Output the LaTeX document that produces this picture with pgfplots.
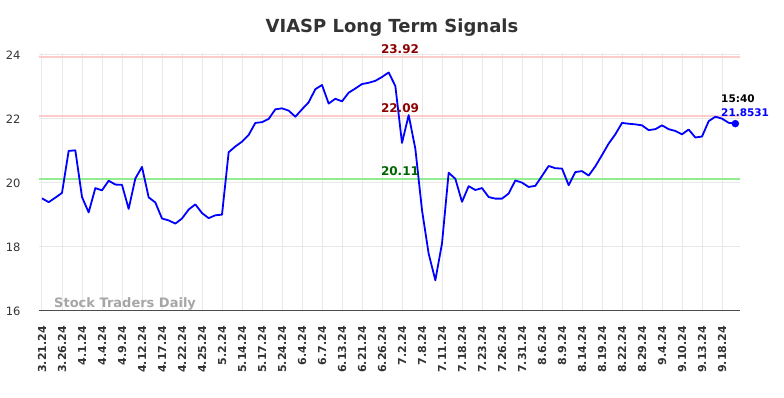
\documentclass[border=0pt]{standalone}
\usepackage{pgfplots}
\pgfplotsset{compat=1.18}
\usepackage{graphicx}
\usepackage{fontspec}
\setmainfont{DejaVu Sans}
\definecolor{titlegray}{HTML}{333333}
\definecolor{tickgray}{HTML}{333333}
\definecolor{gridgray}{HTML}{E8E8E8}
\definecolor{pinkline}{HTML}{FFCCCC}
\definecolor{greenline}{HTML}{90EE90}
\definecolor{darkredtxt}{HTML}{8B0000}
\definecolor{darkgreentxt}{HTML}{006400}
\definecolor{wmgray}{HTML}{A6A6A6}
\newcommand{\rl}[1]{\rotatebox{90}{#1}}
\begin{document}
\begin{tikzpicture}[x=1pt,y=1pt]
\useasboundingbox (0,0) rectangle (784,398);
\node[anchor=base, font=\bfseries\fontsize{18}{18}\selectfont, text=titlegray] at (392,365.5) {VIASP Long Term Signals};
\begin{axis}[
  at={(39pt,87pt)}, anchor=south west,
  scale only axis, width=701pt, height=258pt,
  xmin=-0.45, xmax=104.7, ymin=16, ymax=24.06,
  axis x line*=bottom, axis y line*=left,
  x axis line style={draw=black!70, line width=1pt, -},
  y axis line style={draw=none},
  major tick length=0pt,
  grid=major,
  major grid style={draw=gridgray, line width=1pt},
  ytick={16,18,20,22,24},
  yticklabel style={font=\fontsize{11.5}{11.5}\selectfont, text=tickgray, xshift=-15pt},
  /pgf/number format/assume math mode=true,
  xtick={0,3,...,102},
  xticklabels={\rl{3.21.24},\rl{3.26.24},\rl{4.1.24},\rl{4.4.24},\rl{4.9.24},\rl{4.12.24},\rl{4.17.24},\rl{4.22.24},\rl{4.25.24},\rl{5.2.24},\rl{5.14.24},\rl{5.17.24},\rl{5.24.24},\rl{6.4.24},\rl{6.7.24},\rl{6.13.24},\rl{6.21.24},\rl{6.26.24},\rl{7.2.24},\rl{7.8.24},\rl{7.11.24},\rl{7.18.24},\rl{7.23.24},\rl{7.26.24},\rl{7.31.24},\rl{8.6.24},\rl{8.9.24},\rl{8.14.24},\rl{8.19.24},\rl{8.22.24},\rl{8.29.24},\rl{9.4.24},\rl{9.10.24},\rl{9.13.24},\rl{9.18.24}},
  xticklabel style={anchor=north, font=\bfseries\fontsize{11}{11}\selectfont, text=tickgray, yshift=-15pt, inner sep=0pt},
  clip=false,
]
\addplot[pinkline, line width=2pt] coordinates {(-0.45,23.92) (104.7,23.92)};
\addplot[pinkline, line width=2pt] coordinates {(-0.45,22.09) (104.7,22.09)};
\addplot[greenline, line width=2pt] coordinates {(-0.45,20.11) (104.7,20.11)};
\addplot[blue, line width=1.8pt, line join=round] table {
x y
0 19.52
1 19.40
2 19.54
3 19.69
4 21.00
5 21.02
6 19.56
7 19.08
8 19.84
9 19.77
10 20.07
11 19.95
12 19.94
13 19.19
14 20.14
15 20.50
16 19.55
17 19.39
18 18.89
19 18.83
20 18.73
21 18.89
22 19.17
23 19.33
24 19.06
25 18.90
26 18.99
27 19.01
28 20.96
29 21.14
30 21.29
31 21.50
32 21.875
33 21.90
34 22.00
35 22.30
36 22.33
37 22.26
38 22.07
39 22.30
40 22.52
41 22.93
42 23.06
43 22.48
44 22.63
45 22.55
46 22.82
47 22.95
48 23.09
49 23.13
50 23.19
51 23.31
52 23.45
53 23.03
54 21.25
55 22.12
56 21.07
57 19.15
58 17.79
59 16.96
60 18.11
61 20.32
62 20.13
63 19.41
64 19.90
65 19.78
66 19.84
67 19.56
68 19.51
69 19.51
70 19.67
71 20.08
72 20.01
73 19.875
74 19.91
75 20.22
76 20.53
77 20.46
78 20.45
79 19.93
80 20.34
81 20.37
82 20.23
83 20.52
84 20.87
85 21.23
86 21.52
87 21.875
88 21.85
89 21.83
90 21.80
91 21.65
92 21.68
93 21.80
94 21.68
95 21.625
96 21.52
97 21.67
98 21.42
99 21.45
100 21.93
101 22.07
102 22.01
103 21.88
104 21.8531
};
\addplot[blue, only marks, mark=*, mark size=3.5pt] coordinates {(104,21.8531)};
\node[anchor=south, inner sep=0pt, yshift=3.5pt, font=\bfseries\fontsize{12}{12}\selectfont, text=darkredtxt] at (axis cs:53.7,23.92) {23.92};
\node[anchor=south, inner sep=0pt, yshift=3.5pt, font=\bfseries\fontsize{12}{12}\selectfont, text=darkredtxt] at (axis cs:53.7,22.09) {22.09};
\node[anchor=south, inner sep=0pt, yshift=3.5pt, font=\bfseries\fontsize{12}{12}\selectfont, text=darkgreentxt] at (axis cs:53.7,20.11) {20.11};
\node[anchor=west, inner sep=0pt, font=\bfseries\fontsize{10.5}{10.5}\selectfont, text=black] at (axis cs:101.85,22.64) {15:40};
\node[anchor=west, inner sep=0pt, font=\bfseries\fontsize{10.5}{10.5}\selectfont, text=blue] at (axis cs:101.85,22.2) {21.8531};
\node[anchor=base west, inner sep=0pt, font=\bfseries\fontsize{13}{13}\selectfont, text=wmgray] at (axis cs:1.8,16.115) {Stock Traders Daily};
\end{axis}
\end{tikzpicture}
\end{document}
